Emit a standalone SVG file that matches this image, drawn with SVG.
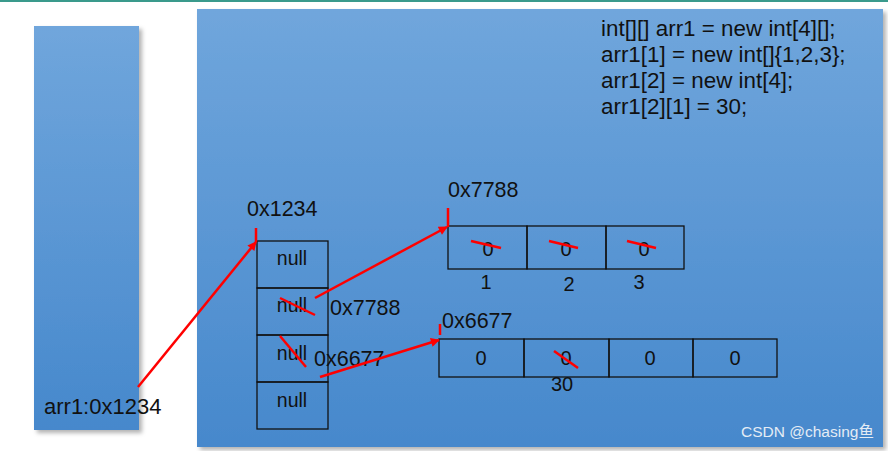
<svg xmlns="http://www.w3.org/2000/svg" width="888" height="451" viewBox="0 0 888 451">
<defs>
<linearGradient id="bg" x1="0" y1="0" x2="0" y2="1">
<stop offset="0" stop-color="#70a6dc"/>
<stop offset="1" stop-color="#4688cc"/>
</linearGradient>
<filter id="sh" x="-5%" y="-5%" width="115%" height="115%">
<feDropShadow dx="3" dy="3" stdDeviation="2" flood-color="#000" flood-opacity="0.3"/>
</filter>
<marker id="ah" viewBox="0 0 10 10" refX="9" refY="5" markerWidth="11" markerHeight="9" orient="auto" markerUnits="userSpaceOnUse">
<path d="M0,0 L10,5 L0,10 z" fill="#ff0000"/>
</marker>
</defs>
<style>
text{font-family:"Liberation Sans",Arial,sans-serif;fill:#111;}
.c{font-size:22.4px;}
.a{font-size:21.5px;}
.n{font-size:19.5px;text-anchor:middle;}
.z{font-size:20px;text-anchor:middle;}
.cell{fill:none;stroke:#111;stroke-width:1.3;}
.r{stroke:#ff0000;stroke-width:2.5;fill:none;}
.wm{font-size:15.5px;fill:#e4ecf5;}
</style>
<rect x="0" y="0" width="888" height="451" fill="#ffffff"/>
<rect x="0" y="0" width="888" height="2" fill="#3a9a8c"/>
<g id="stack">
<rect x="34" y="26" width="105" height="404" fill="url(#bg)" filter="url(#sh)"/>
<text class="a" x="44" y="414" style="font-size:22px">arr1:0x1234</text>
</g>
<g id="heap">
<rect x="197" y="9" width="686" height="438" fill="url(#bg)" filter="url(#sh)"/>
</g>
<g id="code">
<text class="c" x="601" y="36">int[][] arr1 = new int[4][];</text>
<text class="c" x="601" y="62">arr1[1] = new int[]{1,2,3};</text>
<text class="c" x="601" y="88">arr1[2] = new int[4];</text>
<text class="c" x="601" y="114">arr1[2][1] = 30;</text>
</g>
<g id="outer">
<text class="a" x="247" y="216">0x1234</text>
<rect class="cell" x="257" y="241" width="71" height="47"/>
<rect class="cell" x="257" y="288" width="71" height="47"/>
<rect class="cell" x="257" y="335" width="71" height="47"/>
<rect class="cell" x="257" y="382" width="71" height="47"/>
<text class="n" x="292" y="265">null</text>
<text class="n" x="292" y="312">null</text>
<text class="n" x="292" y="360">null</text>
<text class="n" x="292" y="407">null</text>
<text class="a" x="330" y="315">0x7788</text>
<text class="a" x="314" y="366">0x6677</text>
</g>
<g id="arr1">
<text class="a" x="448" y="197">0x7788</text>
<rect class="cell" x="448" y="226" width="79" height="43"/>
<rect class="cell" x="527" y="226" width="79" height="43"/>
<rect class="cell" x="606" y="226" width="78" height="43"/>
<text class="z" x="488" y="256">0</text>
<text class="z" x="566" y="256">0</text>
<text class="z" x="644" y="256">0</text>
<text class="z" x="486" y="289">1</text>
<text class="z" x="569" y="291">2</text>
<text class="z" x="639" y="289">3</text>
</g>
<g id="arr2">
<text class="a" x="442" y="328">0x6677</text>
<rect class="cell" x="439" y="339" width="85" height="38"/>
<rect class="cell" x="524" y="339" width="85" height="38"/>
<rect class="cell" x="609" y="339" width="84" height="38"/>
<rect class="cell" x="693" y="339" width="84" height="38"/>
<text class="z" x="481" y="365">0</text>
<text class="z" x="566" y="365">0</text>
<text class="z" x="650" y="365">0</text>
<text class="z" x="735" y="365">0</text>
<text class="z" x="562" y="391">30</text>
</g>
<g id="connectors">
<line class="r" x1="138" y1="387" x2="256" y2="242" marker-end="url(#ah)"/>
<line class="r" x1="256" y1="228" x2="256" y2="242"/>
<line class="r" x1="315" y1="298" x2="447" y2="227" marker-end="url(#ah)"/>
<line class="r" x1="448" y1="208" x2="448" y2="227"/>
<line class="r" x1="320" y1="377" x2="439" y2="340" marker-end="url(#ah)"/>
<line class="r" x1="440" y1="324" x2="440" y2="335"/>
<line class="r" x1="280" y1="298" x2="315" y2="315"/>
<line class="r" x1="280" y1="336" x2="306" y2="367"/>
<line class="r" x1="471" y1="241" x2="501" y2="248"/>
<line class="r" x1="549" y1="241" x2="578" y2="248"/>
<line class="r" x1="627" y1="241" x2="656" y2="248"/>
<line class="r" x1="554" y1="351" x2="578" y2="368"/>
</g>
<text class="wm" x="741" y="437">CSDN @chasing<tspan font-family="Noto Sans CJK SC,sans-serif">鱼</tspan></text>
</svg>
